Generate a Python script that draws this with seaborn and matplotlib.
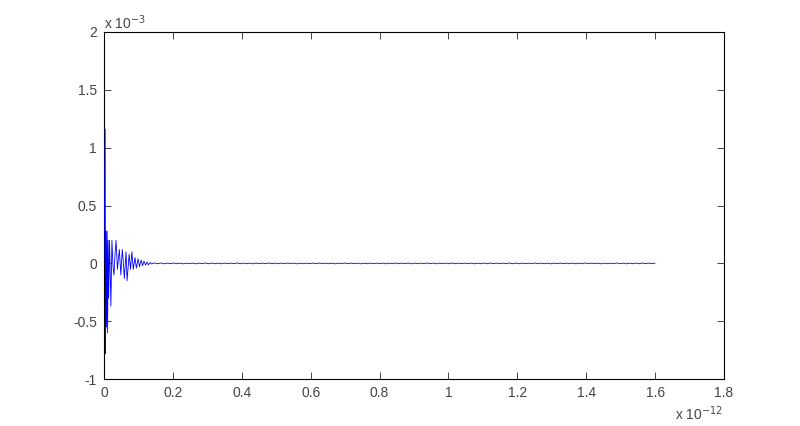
import numpy as np
import pandas as pd
import matplotlib
matplotlib.use("Agg")
import matplotlib.pyplot as plt
import seaborn as sns

# early ringing: time in 1e-12 s, amplitude in 1e-3
early_t = [0.000, 0.0035, 0.0045, 0.006, 0.0075, 0.009, 0.0105, 0.012, 0.0135,
           0.0160, 0.020, 0.023, 0.026, 0.029, 0.032, 0.035, 0.039, 0.0445,
           0.049, 0.053, 0.056, 0.059, 0.064, 0.067, 0.073, 0.077, 0.081,
           0.085, 0.090, 0.094, 0.099, 0.103, 0.108, 0.112, 0.116, 0.121,
           0.125, 0.129, 0.134]
early_v = [0.0, 1.16, -0.78, 0.28, -0.55, 0.28, -0.60, 0.20, -0.30,
           0.20, -0.37, 0.20, -0.02, -0.10, 0.08, 0.20, -0.05, 0.12,
           -0.10, 0.12, 0.02, -0.13, 0.10, -0.15, 0.08, -0.05, 0.10,
           -0.05, 0.05, -0.04, 0.04, -0.03, 0.03, -0.02, 0.02, -0.015,
           0.012, -0.012, 0.008]

# tiny residual ripple after the ringing dies out
tail_v = [-0.005, 0.004, -0.003, 0.004, -0.004, 0.003, -0.003, 0.004, -0.003, 0.003,
          -0.004, 0.003, -0.003, 0.003, -0.004, 0.003, -0.003, 0.004, -0.003, 0.003,
          -0.003, 0.003, -0.004, 0.003, -0.003, 0.003, -0.003, 0.004, -0.003, 0.003,
          -0.003, 0.003, -0.004, 0.003, -0.003, 0.003, -0.003, 0.004, -0.003, 0.003,
          -0.003, 0.003, -0.003, 0.004, -0.003, 0.003, -0.004, 0.003, -0.003, 0.003,
          -0.003, 0.003, -0.003, 0.004, -0.003, 0.003, -0.003, 0.003, -0.004, 0.003,
          -0.003, 0.004, -0.003, 0.003, -0.003, 0.003, -0.004, 0.003, -0.003, 0.003,
          -0.003, 0.003, -0.003, 0.003, -0.004, 0.003, -0.003, 0.004, -0.003, 0.003,
          -0.003, 0.003, -0.004, 0.003, -0.003, 0.003, -0.003, 0.004, -0.003, 0.003,
          -0.004, 0.003, -0.003, 0.003, -0.003, 0.004, -0.003, 0.003, -0.003, 0.003,
          -0.003, 0.003, -0.004, 0.003, -0.003, 0.003, -0.003, 0.004, -0.003, 0.003,
          -0.003, 0.003, -0.003, 0.004, -0.003, 0.003, -0.003, 0.003, -0.003, 0.003,
          -0.003, 0.004, -0.003, 0.003, -0.003, 0.003, -0.004, 0.003, -0.003, 0.003,
          -0.003, 0.003, -0.003, 0.003, -0.004, 0.003, -0.003, 0.004, -0.003, 0.003,
          -0.003, 0.003, -0.004, 0.003, -0.003, 0.003, -0.003, 0.004, -0.003, 0.003,
          -0.004, 0.003, -0.003, 0.003, -0.003, 0.004, -0.003, 0.003, -0.003, 0.003]
tail_t = np.linspace(0.138, 1.6, len(tail_v))

x_ticks = [0, 0.2, 0.4, 0.6, 0.8, 1, 1.2, 1.4, 1.6, 1.8]
x_labels = ["0", "0.2", "0.4", "0.6", "0.8", "1", "1.2", "1.4", "1.6", "1.8"]
y_ticks = [-1, -0.5, 0, 0.5, 1, 1.5, 2]
y_labels = ["-1", "-0.5", "0", "0.5", "1", "1.5", "2"]

df = pd.DataFrame({"t": list(early_t) + list(tail_t),
                   "v": list(early_v) + list(tail_v)})

sns.set_style("ticks")
plt.rcParams["font.family"] = ["Liberation Sans", "DejaVu Sans"]
plt.rcParams["axes.unicode_minus"] = False

fig = plt.figure(figsize=(8, 4.26), dpi=100)
ax = fig.add_axes([0.13, 0.11, 0.775, 0.815])
sns.lineplot(data=df, x="t", y="v", sort=False, estimator=None,
             color="#0000ff", linewidth=0.6, ax=ax, zorder=3)

ax.set_xlim(0, 1.8)
ax.set_ylim(-1, 2)
ax.set_xticks(x_ticks)
ax.set_xticklabels(x_labels)
ax.set_yticks(y_ticks)
ax.set_yticklabels(y_labels)
ax.set_xlabel("")
ax.set_ylabel("")
for s in ax.spines.values():
    s.set_visible(True)
    s.set_linewidth(0.8)
    s.set_color("black")
ax.tick_params(direction="in", length=5, width=0.6, top=True, right=True,
               labelsize=10, labelcolor="#444444", pad=5)

ax.text(0.0, 1.0, r"x 10$^{-3}$", transform=ax.transAxes, ha="left", va="bottom",
        fontsize=10, color="#444444")
fig.text(0.904, 0.008, r"x 10$^{-12}$", ha="right", va="bottom",
         fontsize=10, color="#444444")

fig.savefig("out.png", dpi=100, facecolor="white")
